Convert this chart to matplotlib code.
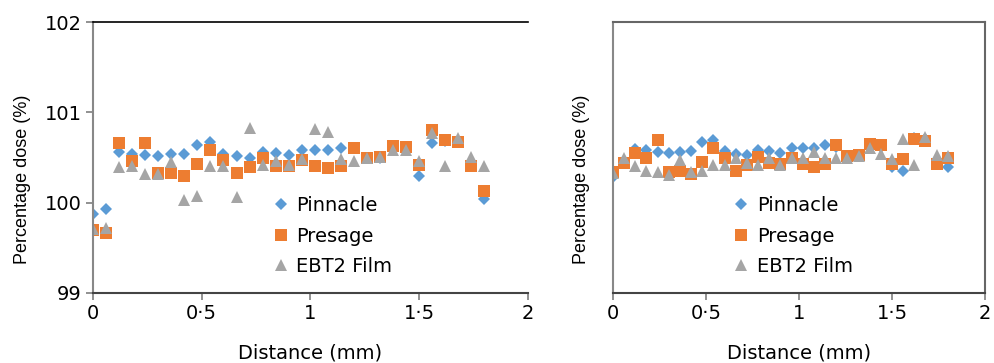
import matplotlib
matplotlib.use("Agg")
import matplotlib.pyplot as plt
import numpy as np

plt.rcParams['font.family'] = ['DejaVu Sans']

distance = [round(0.06 * i, 2) for i in range(31)]

left_pinnacle = [99.88, 99.93, 100.56, 100.54, 100.53, 100.52, 100.54, 100.54, 100.64, 100.67,
                 100.54, 100.52, 100.50, 100.56, 100.55, 100.53, 100.58, 100.58, 100.58, 100.61,
                 100.60, 100.50, 100.50, 100.62, 100.60, 100.29, 100.66, 100.68, 100.67, 100.41, 100.04]
left_presage = [99.70, 99.66, 100.66, 100.46, 100.66, 100.33, 100.33, 100.29, 100.43, 100.58,
                100.47, 100.33, 100.40, 100.49, 100.41, 100.41, 100.47, 100.41, 100.38, 100.41,
                100.61, 100.50, 100.51, 100.63, 100.62, 100.42, 100.80, 100.69, 100.67, 100.41, 100.13]
left_ebt2 = [99.71, 99.72, 100.39, 100.41, 100.32, 100.32, 100.45, 100.03, 100.07, 100.41,
             100.41, 100.06, 100.83, 100.42, 100.46, 100.42, 100.48, 100.82, 100.78, 100.48,
             100.46, 100.49, 100.51, 100.58, 100.58, 100.46, 100.77, 100.41, 100.72, 100.51, 100.41]

right_pinnacle = [100.28, 100.45, 100.59, 100.58, 100.56, 100.55, 100.56, 100.57, 100.67, 100.69,
                  100.57, 100.54, 100.53, 100.58, 100.57, 100.55, 100.61, 100.60, 100.61, 100.64,
                  100.62, 100.52, 100.52, 100.63, 100.62, 100.40, 100.35, 100.72, 100.70, 100.43, 100.40]
right_presage = [100.34, 100.44, 100.55, 100.49, 100.69, 100.34, 100.35, 100.32, 100.45, 100.60,
                 100.49, 100.35, 100.42, 100.51, 100.44, 100.43, 100.49, 100.43, 100.40, 100.43,
                 100.64, 100.52, 100.53, 100.65, 100.64, 100.43, 100.48, 100.70, 100.68, 100.43, 100.50]
right_ebt2 = [100.33, 100.49, 100.41, 100.35, 100.34, 100.31, 100.47, 100.34, 100.35, 100.42,
              100.42, 100.50, 100.44, 100.42, 100.49, 100.42, 100.49, 100.49, 100.56, 100.49,
              100.49, 100.50, 100.52, 100.60, 100.54, 100.48, 100.71, 100.42, 100.73, 100.53, 100.52]

series_names = ["Pinnacle", "Presage", "EBT2 Film"]
xticks = [0, 0.5, 1, 1.5, 2]
xtick_labels = ["0", "0·5", "1", "1·5", "2"]
yticks = [99, 100, 101, 102]
ytick_labels = ["99", "100", "101", "102"]

colors = ["#5B9BD5", "#ED7D31", "#A5A5A5"]
markers = ["D", "s", "^"]
msizes = [6.5, 8.5, 9]

FS = 14

fig = plt.figure(figsize=(9.94, 3.63), dpi=100)
axL = fig.add_axes([93/994, 70/363, 435/994, 271/363])
axR = fig.add_axes([613/994, 70/363, 372/994, 271/363])

for ax, data in ((axL, (left_pinnacle, left_presage, left_ebt2)),
                 (axR, (right_pinnacle, right_presage, right_ebt2))):
    for vals, name, c, m, ms in zip(data, series_names, colors, markers, msizes):
        ax.plot(distance, vals, linestyle="none", marker=m, color=c, markersize=ms,
                markeredgewidth=0, label=name)
    ax.set_xlim(0, 2)
    ax.set_ylim(99, 102)
    ax.set_xticks(xticks)
    ax.set_xticklabels(xtick_labels, fontsize=FS)
    ax.set_xlabel("Distance (mm)", fontsize=FS)
    ax.xaxis.set_label_coords(0.5, -0.185)
    ax.set_ylabel("Percentage dose (%)", fontsize=13, family=["Liberation Sans", "DejaVu Sans"])
    ax.tick_params(axis="x", direction="out", length=5, width=1.3, color="#888888", pad=3)
    ax.spines["bottom"].set_color("#444444")
    ax.spines["bottom"].set_linewidth(1.5)
    ax.spines["left"].set_color("#888888")
    ax.spines["left"].set_linewidth(1.5)

# left panel
axL.set_yticks(yticks)
axL.set_yticklabels(ytick_labels, fontsize=FS)
axL.tick_params(axis="y", direction="out", length=5, width=1.3, color="#888888", pad=3)
axL.spines["right"].set_visible(False)
axL.spines["top"].set_color("black")
axL.spines["top"].set_linewidth(1.2)
axL.yaxis.set_label_coords(-0.143, 0.42)
axL.legend(loc="center left", bbox_to_anchor=(0.405, 0.21), frameon=False, fontsize=FS,
           handletextpad=0.2, labelspacing=0.6, handlelength=1.2, borderpad=0,
           borderaxespad=0)

# right panel
axR.set_yticks(yticks)
axR.set_yticklabels([])
axR.tick_params(axis="y", length=0)
for s in ("top", "right"):
    axR.spines[s].set_color("#666666")
    axR.spines[s].set_linewidth(1.5)
axR.yaxis.set_label_coords(-0.062, 0.42)
axR.legend(loc="center left", bbox_to_anchor=(0.313, 0.21), frameon=False, fontsize=FS,
           handletextpad=0.2, labelspacing=0.6, handlelength=1.2, borderpad=0,
           borderaxespad=0)

fig.savefig("out.png", dpi=100)
